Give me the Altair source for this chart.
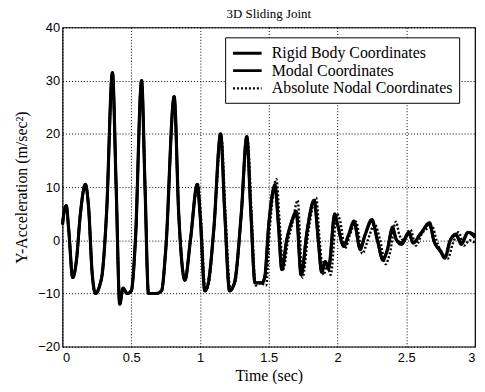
import altair as alt
import pandas as pd

# Rigid Body Coordinates (shared time grid with Modal)
t_rb = [0.000, 0.012, 0.027, 0.045, 0.074, 0.10, 0.13, 0.166, 0.19, 0.215, 0.24, 0.27, 0.29, 0.32,
        0.363, 0.39, 0.416, 0.44, 0.47, 0.50, 0.53, 0.575, 0.60, 0.625, 0.68, 0.72, 0.75, 0.812,
        0.845, 0.89, 0.93, 0.98, 1.00, 1.035, 1.06, 1.10, 1.15, 1.18, 1.215, 1.25, 1.30, 1.34,
        1.37, 1.40, 1.45, 1.47, 1.50, 1.545, 1.57, 1.595, 1.63, 1.66, 1.70, 1.735, 1.78, 1.83,
        1.86, 1.885, 1.91, 1.935, 1.98, 2.00, 2.045, 2.08, 2.12, 2.165, 2.20, 2.25, 2.29, 2.33,
        2.36, 2.40, 2.43, 2.465, 2.52, 2.55, 2.60, 2.67, 2.70, 2.75, 2.78, 2.82, 2.86, 2.90,
        2.95, 3.00]
y_rb = [3, 5.5, 6.5, 2, -7, -4, 5, 10.5, 6, -6, -10, -8.5, -6, 5,
        31.5, 10, -12, -9, -10, -9.5, 0, 30, 10, -10, -10, -9.5, -2, 27,
        5, -7.5, 0, 10.5, 5, -9.5, -8, 2, 20, 5, -9.5, -8, 5, 19.5,
        5, -8, -8, -7, 3, 10, 3, -5.5, 0, 3, 5, -6.5, 2, 7.5,
        0, -6, -4, -5, 4.8, 3, -1, 1, 3.6, -1.5, 1, 3.9, 0, -3.5,
        -2, 2, 0, -0.5, 1.5, -0.5, 1, 3.3, 0, -2, -3.2, 0, 1, -0.5,
        1.5, 0.5]
y_modal = [3, 5.5, 6.5, 2, -7, -4, 5, 10.5, 6, -6, -10, -8.5, -6, 5,
           31.5, 10, -12, -9, -10, -9.5, 0, 30, 10, -10, -10, -9.5, -2, 27,
           5, -7.5, 0, 10.5, 5, -9.5, -8, 2, 20, 5, -9.5, -8, 5, 19.5,
           5, -8, -8, -7, 3, 10.5, 3, -5.5, 0, 3, 5.5, -6.5, 2, 7.5,
           0, -6, -4, -5.5, 5, 3, -1.2, 1, 3.2, -1.8, 1, 3.6, 0, -3.8,
           -2, 2.5, 0, -0.8, 1.2, -0.5, 1.2, 3, 0, -2.2, -3.4, 0, 1.2, -0.8,
           1.5, 1]

# Absolute Nodal Coordinates
t_abs = [0.000, 0.012, 0.027, 0.045, 0.074, 0.10, 0.13, 0.166, 0.19, 0.215, 0.24, 0.27, 0.29, 0.32,
         0.363, 0.39, 0.416, 0.44, 0.47, 0.50, 0.53, 0.575, 0.60, 0.625, 0.68, 0.72, 0.75, 0.812,
         0.845, 0.89, 0.93, 0.985, 1.005, 1.04, 1.065, 1.10, 1.155, 1.185, 1.22, 1.255, 1.30, 1.345,
         1.375, 1.405, 1.44, 1.48, 1.51, 1.555, 1.58, 1.605, 1.64, 1.67, 1.71, 1.745, 1.79, 1.845,
         1.87, 1.90, 1.925, 1.95, 1.995, 2.02, 2.055, 2.09, 2.135, 2.18, 2.22, 2.27, 2.31, 2.35,
         2.38, 2.425, 2.45, 2.48, 2.53, 2.57, 2.62, 2.69, 2.72, 2.76, 2.80, 2.84, 2.88, 2.92,
         2.96, 3.00]
y_abs = [3, 5.5, 6.5, 2, -7, -4, 5, 10.5, 6, -6, -10, -8.5, -6, 5,
         31, 10, -11.5, -9, -10, -9.5, 0, 29.5, 10, -10, -10, -9.5, -2, 26.5,
         5, -7.5, 0, 10.5, 5, -9.5, -8, 2, 19.5, 5, -9, -8, 5, 19,
         5, -8.5, -8, -8.5, 3, 11.5, 3, -5.5, 0, 3, 7.5, -7, 2, 8,
         0, -6.5, -4.5, -6.5, 5, 3.5, -1.5, 1, 3.5, -2.5, 0, 3, 0, -4.5,
         -2.5, 3.5, 1, 0, 2, -1, 1.5, 2.5, 0, -2.5, -3.5, -0.5, 1.5, -1,
         0, -0.5]

series = ["Rigid Body Coordinates", "Modal Coordinates", "Absolute Nodal Coordinates"]
x_ticks = [0, 0.5, 1, 1.5, 2, 2.5, 3]
y_ticks = [-20, -10, 0, 10, 20, 30, 40]

rows = []
for t, y in zip(t_rb, y_rb):
    rows.append({"t": t, "y": y, "s": series[0]})
for t, y in zip(t_rb, y_modal):
    rows.append({"t": t, "y": y, "s": series[1]})
for t, y in zip(t_abs, y_abs):
    rows.append({"t": t, "y": y, "s": series[2]})
df = pd.DataFrame(rows)

serif = "Liberation Serif"
sans = "Liberation Sans"

legend = alt.Legend(
    title=None, orient="none", legendX=164, legendY=10,
    symbolType="M-1,0H2.6", symbolSize=256, symbolStrokeColor="black", symbolFillColor="transparent",
    labelFont=serif, labelFontSize=16, labelColor="black",
    strokeColor="black", fillColor="white", padding=6, rowPadding=0,
    labelLimit=300, labelOffset=21,
)

chart = alt.Chart(df).mark_line(color="black", interpolate="monotone").encode(
    x=alt.X("t:Q", scale=alt.Scale(domain=[0, 3], nice=False),
            axis=alt.Axis(values=x_ticks, format="~g", title="Time (sec)")),
    y=alt.Y("y:Q", scale=alt.Scale(domain=[-20, 40], nice=False),
            axis=alt.Axis(values=y_ticks, title="Y-Acceleration (m/sec²)")),
    detail="s:N",
    strokeDash=alt.StrokeDash("s:N", scale=alt.Scale(domain=series, range=[[1, 0], [1, 0], [2, 2]]), legend=legend),
    strokeWidth=alt.StrokeWidth("s:N", scale=alt.Scale(domain=series, range=[3.2, 2.4, 2]), legend=legend),
    order=alt.Order("t:Q"),
).properties(
    width=416, height=322,
    title=alt.TitleParams("3D Sliding Joint", font=serif, fontSize=13, fontWeight="normal", color="black", offset=1),
    autosize=alt.AutoSizeParams(type="none"),
    padding={"left": 55, "top": 18, "right": 2, "bottom": 36},
).configure_view(
    stroke="black", strokeWidth=1.2
).configure_axis(
    grid=True, gridColor="black", gridDash=[1, 2], gridWidth=1, gridOpacity=1,
    domain=False, ticks=False,
    labelFont=sans, labelFontSize=13, labelColor="black",
    titleFont=serif, titleFontSize=16, titleFontWeight="normal", titleColor="black",
).configure_axisX(
    labelPadding=5, titlePadding=3
).configure_axisY(
    labelPadding=3, titlePadding=8
).configure_legend(
    labelFont=serif, labelFontSize=16
)

chart.save("out.html", embed_options={"renderer": "svg", "actions": False})
